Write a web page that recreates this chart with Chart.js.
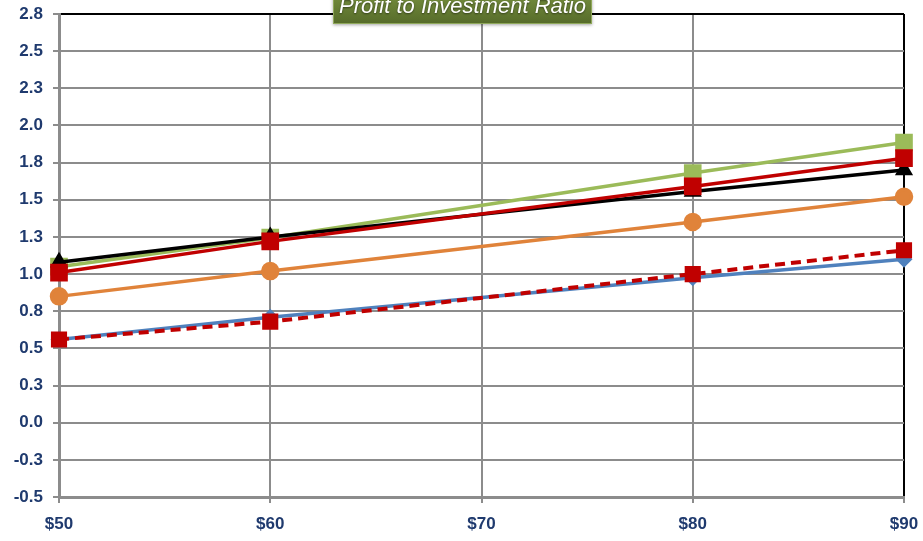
<!DOCTYPE html>
<html>
<head>
<meta charset="utf-8">
<script src="https://cdn.jsdelivr.net/npm/chart.js@4"></script>
<style>
  html, body { margin: 0; padding: 0; background: #ffffff; }
  #wrap { width: 923px; height: 541px; }
</style>
</head>
<body>
<div id="wrap"><canvas id="ratioChart" width="923" height="541"></canvas></div>
<script>
// Chart data
const prices = [50, 60, 80, 90];
const greenSeries = [1.05, 1.245, 1.68, 1.885];
const blackSeries = [1.08, 1.25, 1.555, 1.70];
const redSeries = [1.01, 1.22, 1.59, 1.78];
const orangeSeries = [0.85, 1.02, 1.35, 1.52];
const blueSeries = [0.56, 0.71, 0.975, 1.10];
const dashedSeries = [0.56, 0.68, 1.0, 1.16];
const chartTitle = 'Profit to Investment Ratio';

const tickColor = '#1F3A6E';
const gridGrey = '#8C8C8C';
const labelFont = { family: '"Liberation Sans", Arial, sans-serif', size: 17, weight: 'bold' };

function toPoints(values) {
    return prices.map((p, i) => ({ x: p, y: values[i] }));
}

// Draws the green title box at the top
const titleBox = {
    id: 'titleBox',
    afterDraw(chart) {
        const ctx = chart.ctx;
        const x0 = 333, x1 = 592, y0 = -12, y1 = 24;
        ctx.save();
        ctx.shadowColor = 'rgba(0,0,0,0.35)';
        ctx.shadowBlur = 3;
        ctx.shadowOffsetY = 1;
        const grad = ctx.createLinearGradient(0, y0, 0, y1);
        grad.addColorStop(0, '#7A9440');
        grad.addColorStop(1, '#566B2A');
        ctx.fillStyle = grad;
        ctx.fillRect(x0, y0, x1 - x0, y1 - y0);
        ctx.shadowColor = 'transparent';
        ctx.strokeStyle = '#8FA85A';
        ctx.lineWidth = 1;
        ctx.strokeRect(x0 + 0.5, y0 + 0.5, x1 - x0 - 1, y1 - y0 - 1);
        ctx.fillStyle = '#FFFFFF';
        ctx.font = 'italic 22px "Liberation Sans", Arial, sans-serif';
        ctx.textAlign = 'center';
        ctx.textBaseline = 'alphabetic';
        ctx.shadowColor = 'rgba(0,0,0,0.5)';
        ctx.shadowBlur = 2;
        ctx.shadowOffsetY = 1;
        ctx.fillText(chartTitle, (x0 + x1) / 2, 13);
        ctx.restore();
    }
};

const ctx = document.getElementById('ratioChart');

new Chart(ctx, {
    type: 'line',
    data: {
        datasets: [
            {
                data: toPoints(greenSeries),
                borderColor: '#9BBB59', backgroundColor: '#9BBB59',
                borderWidth: 3.5, pointStyle: 'rect', pointRadius: 10, order: 3, clip: false
            },
            {
                data: toPoints(redSeries),
                borderColor: '#C00000', backgroundColor: '#C00000',
                borderWidth: 3.5, pointStyle: 'rect', pointRadius: 10, order: 1, clip: false
            },
            {
                data: toPoints(blackSeries),
                borderColor: '#000000', backgroundColor: '#000000',
                borderWidth: 3.5, pointStyle: 'triangle', pointRadius: 7, order: 2, clip: false
            },
            {
                data: toPoints(orangeSeries),
                borderColor: '#E0833A', backgroundColor: '#E0833A',
                borderWidth: 3.5, pointStyle: 'circle', pointRadius: 7.5, order: 4, clip: false
            },
            {
                data: toPoints(dashedSeries),
                borderColor: '#C00000', backgroundColor: '#C00000',
                borderWidth: 4, borderDash: [10, 6], pointStyle: 'rect', pointRadius: 10,
                pointBorderWidth: 2, order: 5, clip: false
            },
            {
                data: toPoints(blueSeries),
                borderColor: '#4F81BD', backgroundColor: '#4F81BD',
                borderWidth: 3.5, pointStyle: 'rectRot', pointRadius: 6, order: 6, clip: false
            }
        ]
    },
    options: {
        responsive: false,
        animation: false,
        layout: { padding: { top: 14, right: 19, left: 0, bottom: 0 } },
        plugins: {
            legend: { display: false },
            tooltip: { enabled: false }
        },
        scales: {
            x: {
                type: 'linear',
                min: 50, max: 90,
                afterFit: (scale) => { scale.height = 44; scale.paddingLeft = 0; scale.paddingRight = 0; },
                ticks: {
                    stepSize: 10,
                    color: tickColor,
                    padding: 11,
                    font: labelFont,
                    callback: (v) => '$' + v
                },
                grid: {
                    color: (c) => c.tick && c.tick.value === 90 ? '#000000' : gridGrey,
                    lineWidth: 2,
                    tickLength: 6,
                    tickColor: gridGrey
                },
                border: { color: gridGrey, width: 3 }
            },
            y: {
                min: -0.5, max: 2.75,
                afterFit: (scale) => { scale.width = 59; scale.paddingTop = 0; scale.paddingBottom = 0; },
                ticks: {
                    stepSize: 0.25,
                    color: tickColor,
                    padding: 10,
                    font: labelFont,
                    callback: (v) => v.toFixed(1)
                },
                grid: {
                    color: (c) => c.tick && Math.abs(c.tick.value - 2.75) < 1e-6 ? '#000000' : gridGrey,
                    lineWidth: 2,
                    tickLength: 6,
                    tickColor: gridGrey
                },
                border: { color: gridGrey, width: 3 }
            }
        }
    },
    plugins: [titleBox]
});
</script>
</body>
</html>
